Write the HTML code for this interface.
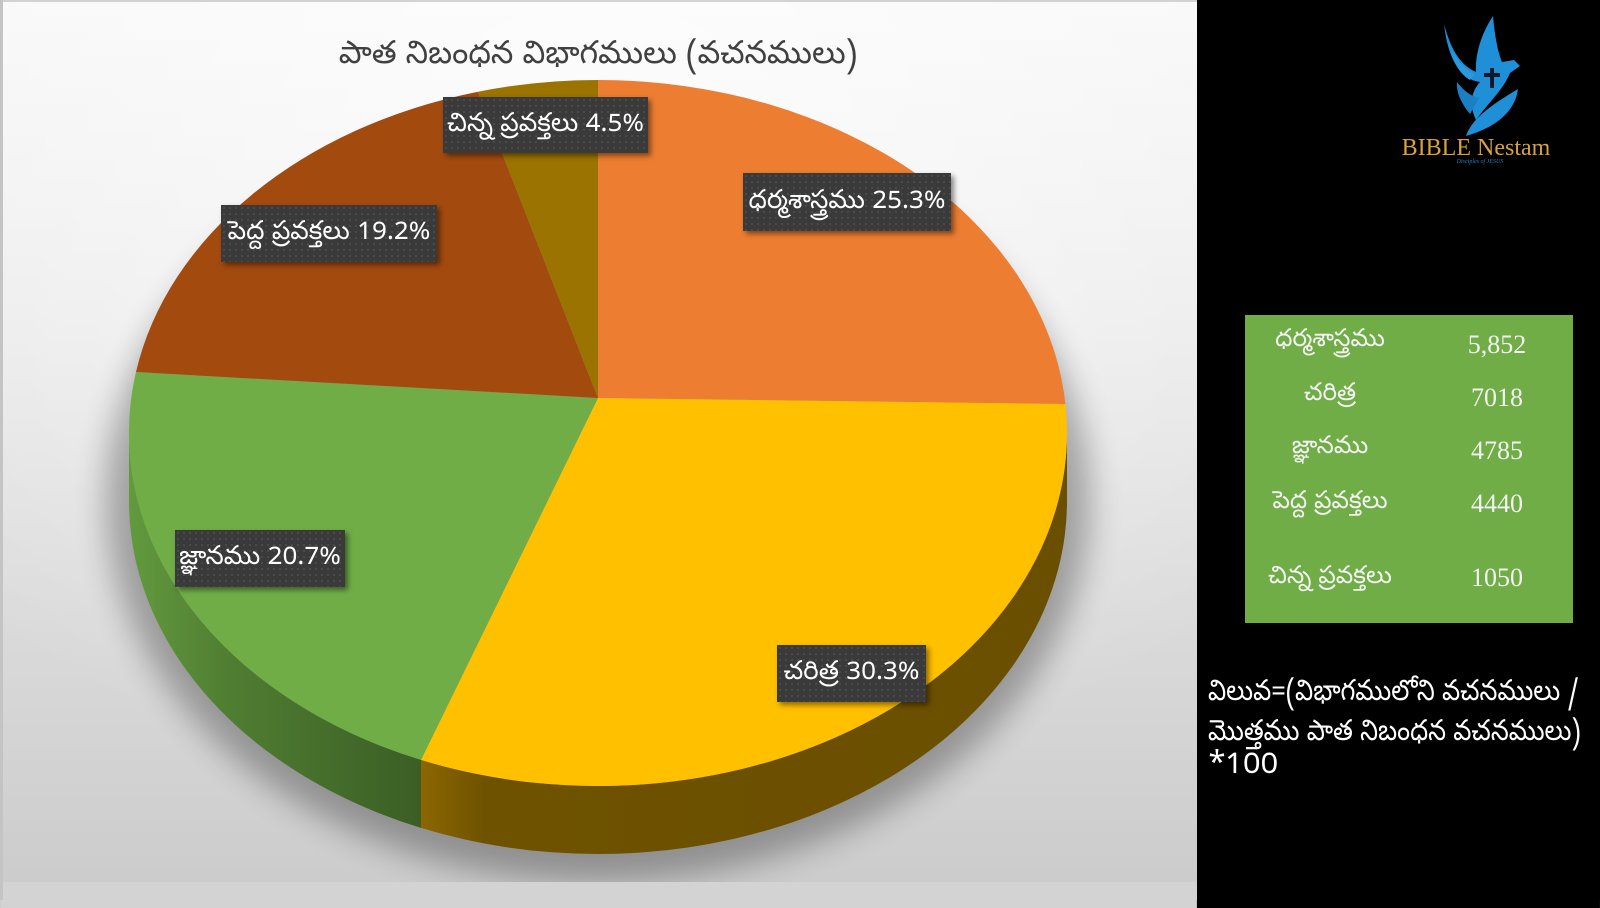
<!DOCTYPE html>
<html style="background:linear-gradient(to right,#d3d3d3 0,#d3d3d3 1197px,#000 1197px);">
<head>
<meta charset="utf-8">
<style>
  html,body{margin:0;padding:0;}
  body{width:1600px;height:900px;position:relative;overflow:hidden;background:#000;
       font-family:"Noto Sans Telugu","Lohit Telugu","Gautami","Liberation Sans","DejaVu Sans",sans-serif;}
  #left{position:absolute;left:0;top:0;width:1197px;height:900px;}
  .lbl{position:absolute;box-sizing:border-box;color:#fff;font-size:26px;text-align:center;white-space:nowrap;
       background-color:#3a3a3a;
       background-image:radial-gradient(circle,#4c4c4c 0.9px,transparent 1.3px);
       background-size:6px 6px;
       box-shadow:3px 3px 5px rgba(0,0,0,0.45);overflow:hidden;}
  .tl{position:absolute;color:#f2f2f2;font-size:24.5px;text-align:center;white-space:nowrap;width:200px;}
  .tn{position:absolute;color:#f2f2f2;font-family:"Liberation Serif",serif;font-size:26px;text-align:center;width:120px;}
  .f{position:absolute;left:1208px;color:#fff;font-size:29px;white-space:nowrap;transform:scaleX(0.88);transform-origin:0 0;}
</style>
</head>
<body>
<div id="left">
<svg width="1197" height="900" viewBox="0 0 1197 900" xmlns="http://www.w3.org/2000/svg">
  <defs>
    <linearGradient id="bg" x1="0" y1="0" x2="0" y2="1">
      <stop offset="0" stop-color="#f8f8f8"/>
      <stop offset="0.35" stop-color="#ebebeb"/>
      <stop offset="1" stop-color="#cbcbcb"/>
    </linearGradient>
    <radialGradient id="bg2" cx="0.5" cy="0.15" r="0.75">
      <stop offset="0" stop-color="#ffffff" stop-opacity="0.7"/>
      <stop offset="1" stop-color="#ffffff" stop-opacity="0"/>
    </radialGradient>
    <filter id="blur" x="-20%" y="-20%" width="140%" height="140%">
      <feGaussianBlur stdDeviation="16"/>
    </filter>
    <linearGradient id="gside" x1="129" y1="0" x2="421" y2="0" gradientUnits="userSpaceOnUse">
      <stop offset="0" stop-color="#629a3e"/>
      <stop offset="0.35" stop-color="#4f7d31"/>
      <stop offset="1" stop-color="#3b5e25"/>
    </linearGradient>
    <linearGradient id="yside" x1="421" y1="0" x2="1067" y2="0" gradientUnits="userSpaceOnUse">
      <stop offset="0" stop-color="#8c6700"/>
      <stop offset="0.1" stop-color="#6e5200"/>
      <stop offset="1" stop-color="#6a4f00"/>
    </linearGradient>
    <clipPath id="cg"><rect x="0" y="0" width="422" height="900"/></clipPath>
    <clipPath id="cy"><rect x="421" y="0" width="800" height="900"/></clipPath>
    <clipPath id="chart"><rect x="0" y="0" width="1197" height="882"/></clipPath>
  </defs>
  <rect x="0" y="0" width="1197" height="900" fill="url(#bg)"/>
  <rect x="0" y="0" width="1197" height="900" fill="url(#bg2)"/>
  <g clip-path="url(#chart)">
    <ellipse cx="598" cy="500" rx="492" ry="382" fill="#000" opacity="0.3" filter="url(#blur)"/>
  </g>
  <rect x="0" y="882" width="1197" height="18" fill="#d3d3d3"/>
  <rect x="0" y="0" width="1197" height="2" fill="#d2d2d2"/>
  <rect x="0" y="0" width="3" height="900" fill="#c4c4c4"/>

  <text x="598" y="63" text-anchor="middle" font-size="32" fill="#404040"
        font-family="Noto Sans Telugu, Lohit Telugu, Gautami, Liberation Sans, sans-serif">పాత నిబంధన విభాగములు (వచనములు)</text>

  <path d="M129,433 A469,353 0 0 0 1067,433 L1067,501 A469,353 0 0 1 129,501 Z" fill="url(#gside)" clip-path="url(#cg)"/>
  <path d="M129,433 A469,353 0 0 0 1067,433 L1067,501 A469,353 0 0 1 129,501 Z" fill="url(#yside)" clip-path="url(#cy)"/>

  <path d="M598,398 L598,80 A469,353 0 0 1 1065.4,404 Z" fill="#ED7D31"/>
  <path d="M598,398 L1065.4,404 A469,353 0 0 1 421,759.9 Z" fill="#FFC000"/>
  <path d="M598,398 L421,759.9 A469,353 0 0 1 136,372 Z" fill="#70AD47"/>
  <path d="M598,398 L136,372 A469,353 0 0 1 478,91.7 Z" fill="#A34A0F"/>
  <path d="M598,398 L478,91.7 A469,353 0 0 1 598,80 Z" fill="#9A7300"/>
</svg>

<div class="lbl" style="left:443px;top:97px;width:205px;height:56px;line-height:58px;">చిన్న ప్రవక్తలు 4.5%</div>
<div class="lbl" style="left:743px;top:173px;width:208px;height:58px;line-height:60px;">ధర్మశాస్త్రము 25.3%</div>
<div class="lbl" style="left:221px;top:205px;width:216px;height:57px;line-height:59px;">పెద్ద ప్రవక్తలు 19.2%</div>
<div class="lbl" style="left:175px;top:530px;width:170px;height:57px;line-height:59px;">జ్ఞానము 20.7%</div>
<div class="lbl" style="left:777px;top:645px;width:149px;height:57px;line-height:59px;">చరిత్ర 30.3%</div>
</div>

<svg style="position:absolute;left:1197px;top:0" width="403" height="900" viewBox="1197 0 403 900" xmlns="http://www.w3.org/2000/svg">
  <rect x="1197" y="0" width="403" height="900" fill="#000"/>
  <path d="M1444,24 C1450,46 1458,64 1476,72 C1475,55 1481,34 1493,16 C1495,38 1498,52 1502,62 L1514,60 L1520,66 L1510,73 C1503,90 1489,102 1476,120 C1469,105 1471,92 1480,82 C1461,80 1448,60 1444,24 Z" fill="#1f8fd8"/>
  <path d="M1452,50 C1458,62 1466,70 1474,74 L1470,80 C1460,74 1454,64 1452,50 Z" fill="#2a9ae0"/>
  <path d="M1470,114 C1461,103 1456,92 1457,82 C1463,90 1470,96 1479,98 Z" fill="#1b7fc4"/>
  <path d="M1466,136 C1472,118 1493,104 1518,89 C1515,111 1497,127 1466,136 Z" fill="#1f8fd8"/>
  <rect x="1490" y="68" width="4" height="20" fill="#0a1a2a"/>
  <rect x="1484" y="73" width="16" height="4" fill="#0a1a2a"/>
  <text x="1476" y="155" text-anchor="middle" font-family="Liberation Serif, serif" font-size="24" fill="#d9a040">BIBLE Nestam</text>
  <text x="1480" y="163" text-anchor="middle" font-family="Liberation Serif, serif" font-style="italic" font-size="6" fill="#2b7fc0">Disciples of JESUS</text>
  <rect x="1245" y="315" width="328" height="308" fill="#70AD47"/>
</svg>

<div class="tl" style="left:1230px;top:325px;">ధర్మశాస్త్రము</div>
<div class="tl" style="left:1230px;top:379px;">చరిత్ర</div>
<div class="tl" style="left:1230px;top:432px;">జ్ఞానము</div>
<div class="tl" style="left:1230px;top:487px;">పెద్ద ప్రవక్తలు</div>
<div class="tl" style="left:1230px;top:562px;">చిన్న ప్రవక్తలు</div>

<div class="tn" style="left:1437px;top:330px;">5,852</div>
<div class="tn" style="left:1437px;top:383px;">7018</div>
<div class="tn" style="left:1437px;top:436px;">4785</div>
<div class="tn" style="left:1437px;top:489px;">4440</div>
<div class="tn" style="left:1437px;top:563px;">1050</div>

<div class="f" style="top:676px;">విలువ=(విభాగములోని వచనములు /</div>
<div class="f" style="top:716px;">మొత్తము పాత నిబంధన వచనములు)</div>
<div class="f" style="top:746px;font-size:31px;transform:none;">*100</div>
</body>
</html>
